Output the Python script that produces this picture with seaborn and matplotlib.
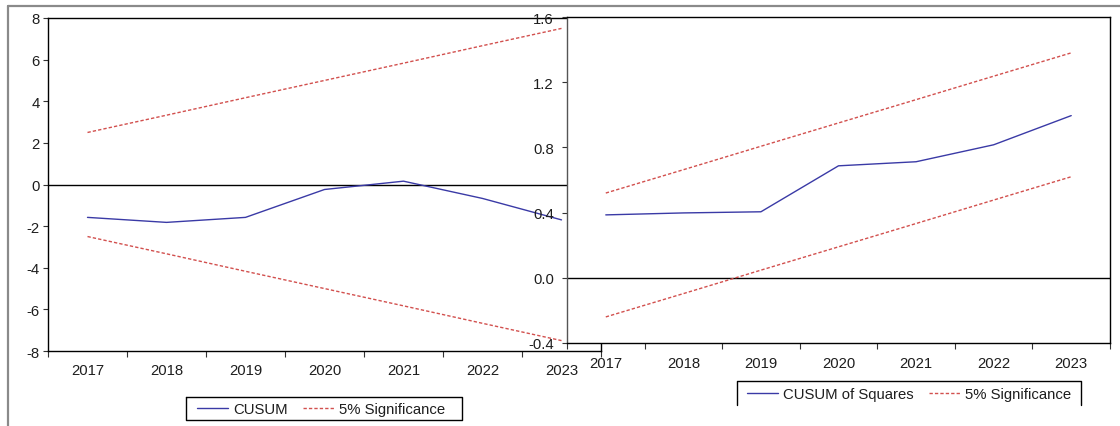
import matplotlib

matplotlib.use("Agg")

import matplotlib.pyplot as plt
import numpy as np
import pandas as pd
import seaborn as sns
from matplotlib.lines import Line2D

# ---- data ----
years = [2017, 2018, 2019, 2020, 2021, 2022, 2023]

cusum = [-1.58, -1.82, -1.58, -0.24, 0.16, -0.67, -1.70]
cusum_upper = [2.5, 3.33, 4.17, 5.0, 5.83, 6.67, 7.5]
cusum_lower = [-2.5, -3.33, -4.17, -5.0, -5.83, -6.67, -7.5]

cusumsq = [0.386, 0.398, 0.405, 0.687, 0.712, 0.816, 0.995]
cusumsq_upper = [0.52, 0.663, 0.807, 0.95, 1.093, 1.237, 1.38]
cusumsq_lower = [-0.24, -0.097, 0.047, 0.19, 0.333, 0.477, 0.62]

left_yticks = [-8, -6, -4, -2, 0, 2, 4, 6, 8]
right_yticks = [-0.4, 0.0, 0.4, 0.8, 1.2, 1.6]

BLUE = "#3a3aa6"
RED = "#d2504e"
TXT = "#1e1e1e"
FS = 10.7

W, H = 1120, 427

sns.set_style("white")
plt.rcParams["font.family"] = ["Liberation Sans", "DejaVu Sans"]
plt.rcParams["font.size"] = FS


def px_rect(x0, y0, x1, y1):
    return [x0 / W, 1 - y1 / H, (x1 - x0) / W, (y1 - y0) / H]


def fx(x):
    return x / W


def fy(y):
    return 1 - y / H


def style_axes(ax, yticks, fmt, ylim, ypad, xpad):
    ax.set_xlim(2016.5, 2023.5)
    ax.set_ylim(*ylim)
    ax.set_yticks(yticks)
    ax.set_yticklabels([fmt.format(v) for v in yticks], color=TXT)
    ax.set_xticks(np.arange(2016.5, 2024.0, 1.0))
    ax.set_xticklabels([])
    ax.set_xticks(years, minor=True)
    ax.set_xticklabels([str(y) for y in years], minor=True, color=TXT)
    ax.tick_params(axis="x", which="major", direction="out", length=4,
                   width=0.8, color="#333333", bottom=True)
    ax.tick_params(axis="x", which="minor", length=0, pad=xpad, labelsize=FS)
    ax.tick_params(axis="y", direction="out", length=3.5, width=0.8,
                   color="#333333", pad=ypad, left=True, labelsize=FS)
    for sp in ax.spines.values():
        sp.set_visible(True)
        sp.set_color("black")
        sp.set_linewidth(1.0)
    ax.set_xlabel("")
    ax.set_ylabel("")
    ax.axhline(0, color="black", lw=1.0, zorder=1)


fig = plt.figure(figsize=(W / 100, H / 100), dpi=100)
fig.patch.set_facecolor("white")

# outer frame (top and left edges visible)
fig.add_artist(Line2D([fx(8), fx(8)], [fy(7), fy(440)], color="#8a8a8a", lw=1.6))
fig.add_artist(Line2D([fx(8), fx(1130)], [fy(7), fy(7)], color="#8a8a8a", lw=1.6))

# ---- left panel: CUSUM ----
ax1 = fig.add_axes(px_rect(48, 19, 601, 352), zorder=1)
sns.lineplot(x=years, y=cusum, ax=ax1, color=BLUE, lw=1.0, label="CUSUM", zorder=3)
sns.lineplot(x=years, y=cusum_upper, ax=ax1, color=RED, lw=1.0,
             label="5% Significance", zorder=3)
sns.lineplot(x=years, y=cusum_lower, ax=ax1, color=RED, lw=1.0, zorder=3)
for ln in ax1.lines[1:]:
    ln.set_dashes((2.4, 1.5))
h1, l1 = ax1.get_legend_handles_labels()
ax1.get_legend().remove()
style_axes(ax1, left_yticks, "{:d}", (-8, 8), 2.5, 8.5)

# ---- right panel: CUSUM of Squares ----
ax2 = fig.add_axes(px_rect(567, 18, 1110, 344), zorder=2)
ax2.set_facecolor("white")
sns.lineplot(x=years, y=cusumsq, ax=ax2, color=BLUE, lw=1.0,
             label="CUSUM of Squares", zorder=3)
sns.lineplot(x=years, y=cusumsq_upper, ax=ax2, color=RED, lw=1.0,
             label="5% Significance", zorder=3)
sns.lineplot(x=years, y=cusumsq_lower, ax=ax2, color=RED, lw=1.0, zorder=3)
for ln in ax2.lines[1:]:
    ln.set_dashes((2.4, 1.5))
h2, l2 = ax2.get_legend_handles_labels()
ax2.get_legend().remove()
style_axes(ax2, right_yticks, "{:.1f}", (-0.4, 1.6), 6, 9.5)
ax2.spines["left"].set_color("#555555")

# ---- legends ----
for (lx, ly, handles, labels) in [(197, 410, h1, l1), (747, 395, h2, l2)]:
    for h in handles[1:]:
        h.set_dashes((2.4, 1.5))
    fig.legend(handles, labels, loc="center left",
               bbox_to_anchor=(fx(lx), fy(ly)), ncol=2, frameon=False,
               borderpad=0, borderaxespad=0, handlelength=2.1,
               handletextpad=0.35, columnspacing=1.0, fontsize=FS,
               labelcolor=TXT)

# left legend box
fig.add_artist(Line2D([fx(186), fx(462), fx(462), fx(186), fx(186)],
                      [fy(398), fy(398), fy(421), fy(421), fy(398)],
                      color="black", lw=1.0))
# right legend box (open at the bottom, as in the source)
fig.add_artist(Line2D([fx(737), fx(737), fx(1081), fx(1081)],
                      [fy(406), fy(382), fy(382), fy(406)],
                      color="black", lw=1.0))

fig.savefig("out.png", dpi=100)
